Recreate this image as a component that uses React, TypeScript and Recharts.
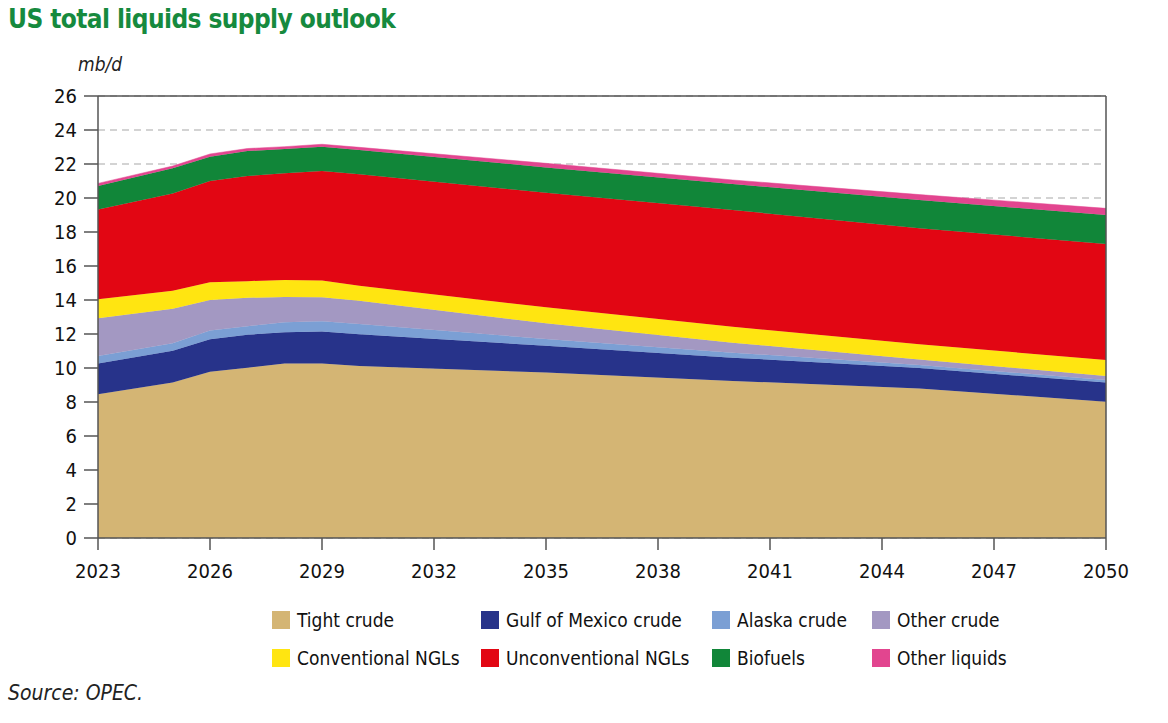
import { AreaChart, Area, XAxis, YAxis, CartesianGrid, ReferenceLine } from 'recharts';

const years = [2023, 2025, 2026, 2027, 2028, 2029, 2030, 2035, 2040, 2045, 2050];
const tightCrude = [8.45, 9.14, 9.78, 10.02, 10.27, 10.27, 10.12, 9.73, 9.24, 8.8, 8.02];
const gulfOfMexico = [1.82, 1.88, 1.91, 1.94, 1.83, 1.87, 1.86, 1.58, 1.37, 1.2, 1.12];
const alaskaCrude = [0.43, 0.43, 0.51, 0.5, 0.59, 0.61, 0.61, 0.4, 0.29, 0.18, 0.15];
const otherCrude = [2.22, 2.04, 1.8, 1.67, 1.49, 1.41, 1.37, 0.92, 0.59, 0.32, 0.24];
const conventionalNGLs = [1.12, 1.06, 1.04, 0.98, 1.0, 0.98, 0.88, 0.94, 0.94, 0.9, 0.94];
const unconventionalNGLs = [5.29, 5.72, 5.96, 6.18, 6.27, 6.45, 6.55, 6.74, 6.86, 6.82, 6.82];
const biofuels = [1.37, 1.48, 1.43, 1.47, 1.43, 1.43, 1.43, 1.49, 1.53, 1.66, 1.71];
const otherLiquids = [0.16, 0.13, 0.16, 0.15, 0.14, 0.14, 0.16, 0.24, 0.24, 0.32, 0.39];

const xTicks = [2023, 2026, 2029, 2032, 2035, 2038, 2041, 2044, 2047, 2050];
const yTicks = [0, 2, 4, 6, 8, 10, 12, 14, 16, 18, 20, 22, 24, 26];

const series = [
  { key: 'tight', name: 'Tight crude', color: '#d4b574', values: tightCrude },
  { key: 'gom', name: 'Gulf of Mexico crude', color: '#27338a', values: gulfOfMexico },
  { key: 'alaska', name: 'Alaska crude', color: '#7b9fd4', values: alaskaCrude },
  { key: 'otherCrude', name: 'Other crude', color: '#a398c2', values: otherCrude },
  { key: 'convNgl', name: 'Conventional NGLs', color: '#ffe511', values: conventionalNGLs },
  { key: 'unconvNgl', name: 'Unconventional NGLs', color: '#e20613', values: unconventionalNGLs },
  { key: 'bio', name: 'Biofuels', color: '#118639', values: biofuels },
  { key: 'otherLiq', name: 'Other liquids', color: '#e2458f', values: otherLiquids },
];

const data = years.map((year, i) => {
  const row: Record<string, number> = { year };
  series.forEach((s) => {
    row[s.key] = s.values[i];
  });
  return row;
});

const font = "'DejaVu Sans Condensed', 'DejaVu Sans', sans-serif";
const axisColor = '#555';

// legend order: two rows of four
const legendCols = [272, 481, 712, 872];
const legendRows = [620, 658];

export default function App() {
  return (
    <div
      style={{
        position: 'fixed',
        left: 0,
        top: 0,
        width: 1168,
        height: 723,
        background: '#fff',
        fontFamily: font,
        overflow: 'hidden',
      }}
    >
      <div
        style={{
          position: 'absolute',
          left: 8,
          top: 4,
          fontSize: 26,
          letterSpacing: -0.6,
          fontWeight: 'bold',
          color: '#168a3e',
          whiteSpace: 'nowrap',
        }}
      >
        US total liquids supply outlook
      </div>
      <div
        style={{
          position: 'absolute',
          left: 78,
          top: 53,
          fontSize: 19,
          fontStyle: 'italic',
          color: '#222',
        }}
      >
        mb/d
      </div>

      <div style={{ position: 'absolute', left: 0, top: 0 }}>
        <AreaChart
          width={1168}
          height={600}
          data={data}
          margin={{ top: 96, right: 62, bottom: 0, left: 0 }}
        >
          <CartesianGrid
            vertical={false}
            stroke="#a8a8a8"
            strokeDasharray="7 5"
            strokeWidth={1.2}
          />
          <XAxis
            dataKey="year"
            type="number"
            domain={[2023, 2050]}
            ticks={xTicks}
            height={62}
            tickSize={12}
            tickMargin={14}
            stroke={axisColor}
            strokeWidth={1.5}
            tick={{ fill: '#111', fontSize: 20, fontFamily: font }}
            interval={0}
          />
          <YAxis
            type="number"
            domain={[0, 26]}
            ticks={yTicks}
            width={98}
            tickSize={14}
            tickMargin={7}
            stroke={axisColor}
            strokeWidth={1.5}
            tick={{ fill: '#111', fontSize: 20, fontFamily: font }}
            interval={0}
          />
          {series.map((s) => (
            <Area
              key={s.key}
              type="linear"
              dataKey={s.key}
              name={s.name}
              stackId="1"
              fill={s.color}
              fillOpacity={1}
              stroke={s.color}
              strokeWidth={0.5}
              isAnimationActive={false}
              dot={false}
              activeDot={false}
            />
          ))}
          <ReferenceLine y={26} stroke={axisColor} strokeWidth={1.5} />
          <ReferenceLine x={2050} stroke={axisColor} strokeWidth={1.5} />
        </AreaChart>
      </div>

      {series.map((s, i) => {
        const col = legendCols[i % 4];
        const row = legendRows[Math.floor(i / 4)];
        return (
          <div
            key={s.key}
            style={{
              position: 'absolute',
              left: col,
              top: row - 10,
              height: 20,
              display: 'flex',
              alignItems: 'center',
              whiteSpace: 'nowrap',
            }}
          >
            <span style={{ width: 18, height: 18, background: s.color, display: 'inline-block' }} />
            <span style={{ marginLeft: 7, fontSize: 19, color: '#111' }}>{s.name}</span>
          </div>
        );
      })}

      <div
        style={{
          position: 'absolute',
          left: 8,
          top: 681,
          fontSize: 21,
          fontStyle: 'italic',
          color: '#222',
        }}
      >
        Source: OPEC.
      </div>
    </div>
  );
}
